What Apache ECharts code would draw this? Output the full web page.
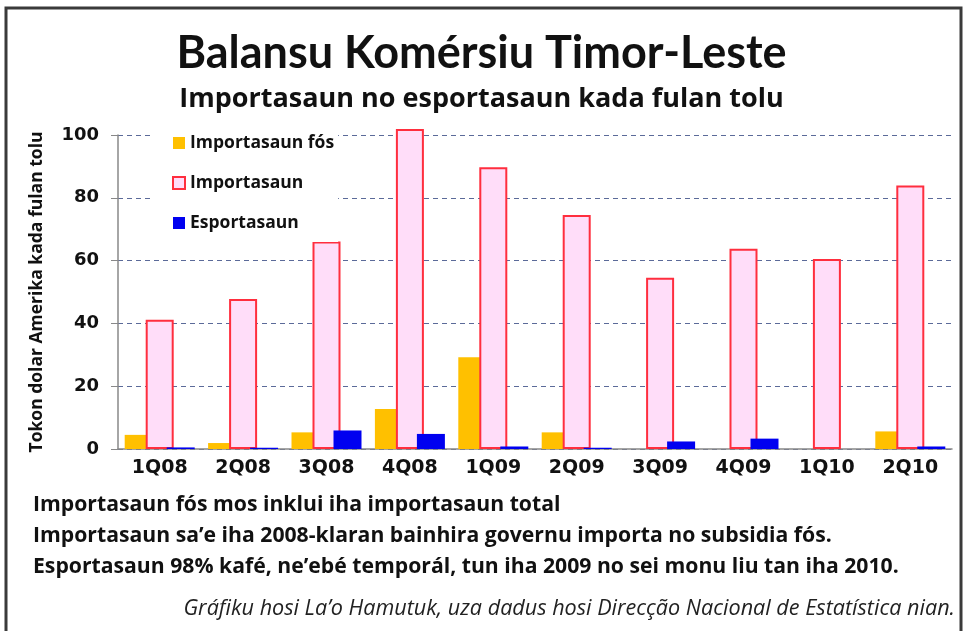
<!DOCTYPE html>
<html>
<head>
<meta charset="utf-8">
<script src="https://cdn.jsdelivr.net/npm/echarts@6/dist/echarts.min.js"></script>
<style>
html, body { margin: 0; padding: 0; background: #fff; }
#chart { width: 963px; height: 631px; }
</style>
</head>
<body>
<div id="chart"></div>
<script>
// kuartál sira
var quarters = ['1Q08', '2Q08', '3Q08', '4Q08', '1Q09', '2Q09', '3Q09', '4Q09', '1Q10', '2Q10'];
// tokon dolar kada fulan
var fuelImports = [4.5, 1.9, 5.3, 12.7, 29.2, 5.3, 0, 0, 0, 5.6];
var imports = [41.2, 47.8, 66.1, 101.9, 89.7, 74.5, 54.5, 63.8, 60.5, 83.9];
var exports = [0.5, 0.4, 5.9, 4.8, 0.8, 0.4, 2.4, 3.3, 0, 0.8];
var yTicks = [0, 20, 40, 60, 80, 100];

var notes = [
    'Importasaun fós mos inklui iha importasaun total',
    'Importasaun sa\u2019e iha 2008-klaran bainhira governu importa no subsidia fós.',
    'Esportasaun 98% kafé, ne\u2019ebé temporál, tun iha 2009 no sei monu liu tan iha 2010.'
];
var credit = 'Gráfiku hosi La\u2019o Hamutuk, uza dadus hosi Direcção Nacional de Estatística nian.';

var LATO = 'Lato, sans-serif';
var OPEN = '"Open Sans", sans-serif';
var DEJA = '"DejaVu Sans", sans-serif';

var chart = echarts.init(document.getElementById('chart'));

var graphics = [
    {
        type: 'rect',
        shape: { x: 6, y: 8, width: 955, height: 640 },
        style: { fill: 'none', stroke: '#3a3a3a', lineWidth: 3 },
        silent: true
    }
];
notes.forEach(function (t, i) {
    graphics.push({
        type: 'text',
        left: 33,
        top: 494 + i * 31,
        style: { text: t, font: 'bold 21.2px ' + OPEN, fill: '#111' }
    });
});
graphics.push({
    type: 'text',
    right: 8,
    top: 598,
    style: { text: credit, font: 'italic 21.6px ' + OPEN, fill: '#222' }
});

option = {
    backgroundColor: '#fff',
    title: {
        text: 'Balansu Komérsiu Timor-Leste',
        subtext: 'Importasaun no esportasaun kada fulan tolu',
        left: 'center',
        top: 26,
        itemGap: 10,
        textStyle: { fontFamily: LATO, fontWeight: 'bold', fontSize: 45, color: '#111' },
        subtextStyle: { fontFamily: OPEN, fontWeight: 'bold', fontSize: 27, color: '#111' }
    },
    legend: {
        orient: 'vertical',
        left: 152,
        top: 124,
        padding: [10, 4, 10, 20],
        backgroundColor: '#fff',
        icon: 'rect',
        itemWidth: 12,
        itemHeight: 12,
        itemGap: 22,
        textStyle: { fontFamily: OPEN, fontWeight: 'bold', fontSize: 17.5, lineHeight: 18, color: '#111' },
        z: 10
    },
    grid: { left: 118, right: 11, top: 135, bottom: 182 },
    xAxis: {
        type: 'category',
        data: quarters,
        axisLine: { lineStyle: { color: '#888', width: 1.5 } },
        axisTick: { length: 6, lineStyle: { color: '#888' } },
        axisLabel: { fontFamily: DEJA, fontWeight: 'bold', fontSize: 19, color: '#111', margin: 10 }
    },
    yAxis: {
        type: 'value',
        min: 0,
        max: 100,
        interval: 20,
        name: 'Tokon dolar Amerika kada fulan tolu',
        nameLocation: 'middle',
        nameRotate: 90,
        nameGap: 72,
        nameTextStyle: { fontFamily: OPEN, fontWeight: 'bold', fontSize: 17.5, color: '#111' },
        axisLine: { show: true, lineStyle: { color: '#888', width: 1.5 } },
        axisTick: { show: true, length: 7, lineStyle: { color: '#888' } },
        axisLabel: {
            fontFamily: DEJA, fontWeight: 'bold', fontSize: 18, color: '#111', margin: 19,
            formatter: function (v) { return yTicks.indexOf(v) >= 0 ? v : ''; }
        },
        splitLine: { lineStyle: { color: '#5b6a99', type: [5, 4], width: 1.2 } }
    },
    series: [
        {
            name: 'Importasaun fós',
            type: 'bar',
            data: fuelImports,
            barWidth: 28,
            barGap: '-25%',
            itemStyle: { color: '#FFC000' }
        },
        {
            name: 'Importasaun',
            type: 'bar',
            data: imports,
            barWidth: 28,
            barGap: '-25%',
            clip: false,
            itemStyle: { color: '#FFDDF9', borderColor: '#FF2E3E', borderWidth: 2 }
        },
        {
            name: 'Esportasaun',
            type: 'bar',
            data: exports,
            barWidth: 28,
            barGap: '-25%',
            itemStyle: { color: '#0000F0' }
        }
    ],
    graphic: graphics
};

chart.setOption(option);
</script>
</body>
</html>
